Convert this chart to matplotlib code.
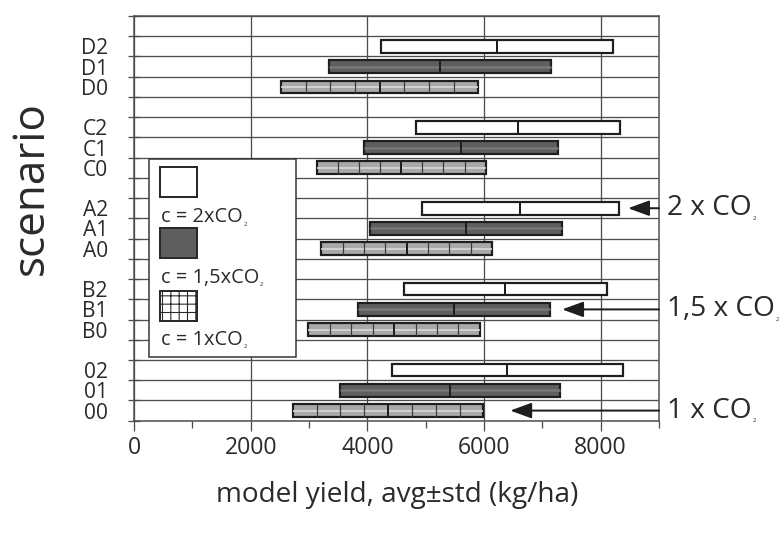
import matplotlib
matplotlib.use("Agg")
import matplotlib.pyplot as plt
import matplotlib.transforms as mtransforms
from matplotlib.patches import Rectangle
import numpy as np

# ---------------- data ----------------
scenarios = ["00", "01", "02", "B0", "B1", "B2", "A0", "A1", "A2",
             "C0", "C1", "C2", "D0", "D1", "D2"]
co2_level = [0, 1, 2, 0, 1, 2, 0, 1, 2, 0, 1, 2, 0, 1, 2]
avg_yield = [4355, 5420, 6400, 4460, 5485, 6365, 4675, 5690, 6620,
             4580, 5610, 6580, 4210, 5250, 6225]
std_yield = [1635, 1890, 1980, 1470, 1645, 1735, 1465, 1640, 1690,
             1450, 1660, 1750, 1690, 1900, 1985]
legend_labels = ["c = 2xCO", "c = 1,5xCO", "c = 1xCO"]
annot_labels = ["2 x CO", "1,5 x CO", "1 x CO"]
annot_rows = ["A2", "B1", "00"]
annot_tips = [8470, 7340, 6450]
x_major = [0, 2000, 4000, 6000, 8000]
x_minor = [1000, 3000, 5000, 7000, 9000]

# ---------------- style ----------------
DPI = 150
W, H = 783, 536
def pt(px):
    return px * 72.0 / DPI

TXT = "#2a2a2a"
EDGE = "#1e1e1e"
GRID = "#4d4d4d"
fills = {0: "#a9a9a9", 1: "#5e5e5e", 2: "#ffffff"}

plt.rcParams["font.family"] = ["Open Sans", "DejaVu Sans"]
plt.rcParams["hatch.linewidth"] = pt(1.1)

fig = plt.figure(figsize=(W / DPI, H / DPI), dpi=DPI)
ax = fig.add_axes([134 / W, 1 - 420.7 / H, 525 / W, 404.7 / H])

# row positions: groups of three separated by an empty slot
row_pos = {}
for i, s in enumerate(scenarios):
    row_pos[s] = i + i // 3
n_slots = len(scenarios) + len(scenarios) // 3 - 1

avg = np.array(avg_yield, float)
std = np.array(std_yield, float)
ys = np.array([row_pos[s] for s in scenarios], float)
lo, hi = avg - std, avg + std
bh = 0.62

ax.barh(ys, 2 * std, left=lo, height=bh,
        color=[fills[c] for c in co2_level], edgecolor=EDGE,
        linewidth=pt(2.2), zorder=3)

# light bars: light midline + quarter-std dividers
for y, a, l, h, c in zip(ys, avg, lo, hi, co2_level):
    if c == 0:
        ax.hlines(y, l, h, colors="#dcdcdc", lw=pt(1.6), zorder=3.5)
        divs = np.concatenate([np.linspace(l, a, 5)[1:-1], np.linspace(a, h, 5)[1:-1]])
        ax.vlines(divs, y - bh / 2, y + bh / 2, colors="#3a3a3a", lw=pt(1.2), zorder=3.6)
    elif c == 1:
        ax.hlines(y, l, h, colors="#787878", lw=pt(2.5), zorder=3.5)
ax.vlines(avg, ys - bh / 2, ys + bh / 2, colors=EDGE, lw=pt(2.0), zorder=4)

# axes / grid
ax.set_xlim(0, 9000)
ax.set_ylim(-0.5, n_slots + 0.5)
ax.set_xticks(x_major)
ax.set_xticks(x_minor, minor=True)
ax.set_xticklabels([str(v) for v in x_major])
ax.set_yticks(ys)
ax.set_yticklabels(scenarios)
ax.set_yticks(np.arange(-0.5, n_slots + 1, 1.0), minor=True)
ax.set_axisbelow(True)
ax.yaxis.grid(True, which="minor", color=GRID, lw=pt(1.3))
ax.xaxis.grid(True, which="major", color=GRID, lw=pt(1.3))
ax.tick_params(axis="y", which="major", length=0, pad=pt(26),
               labelsize=pt(21), labelcolor=TXT)
ax.tick_params(axis="y", which="minor", direction="inout", length=pt(12),
               width=pt(1.3), color=GRID)
ax.tick_params(axis="x", which="major", direction="out", length=pt(10),
               width=pt(1.3), color=GRID, pad=pt(5), labelsize=pt(23), labelcolor=TXT)
ax.tick_params(axis="x", which="minor", direction="out", length=pt(7),
               width=pt(1.3), color=GRID)
for sp in ax.spines.values():
    sp.set_color(GRID)
    sp.set_linewidth(pt(1.5))

# axis labels
fig.text(32 / W, 1 - 188 / H, "scenario", rotation=90, ha="center", va="center",
         fontsize=pt(44), color=TXT)
fig.text(397 / W, 1 - 495 / H, "model yield, avg±std (kg/ha)", ha="center",
         va="center", fontsize=pt(28), color=TXT)

# right-hand arrows and labels
blend = mtransforms.blended_transform_factory(fig.transFigure, ax.transData)
texts_with_sub = []
for lab, r, tip in zip(annot_labels, annot_rows, annot_tips):
    y = row_pos[r]
    ax.annotate("", xy=(tip, y), xytext=(9000, y),
                arrowprops=dict(arrowstyle="-|>,head_length=0.9,head_width=0.33",
                                mutation_scale=pt(20), color=EDGE, lw=pt(2.0),
                                shrinkA=0, shrinkB=0),
                annotation_clip=False)
    t = fig.text(667 / W, y, lab, transform=blend, ha="left", va="center",
                 fontsize=pt(28), color=TXT)
    texts_with_sub.append((t, 4))

# legend box
def fig_rect(x, y, w, h, **kw):
    r = Rectangle((x / W, 1 - (y + h) / H), w / W, h / H,
                  transform=fig.transFigure, **kw)
    fig.add_artist(r)
    return r

fig_rect(149, 159, 147, 198, facecolor="white", edgecolor="#333333",
         linewidth=pt(1.5), zorder=5)
sq_y = [167, 228, 291]
txt_y = [217, 278, 340]
sq_face = ["white", fills[1], "white"]
sq_hatch = [None, None, "+++"]
for yy, fc, hat in zip(sq_y, sq_face, sq_hatch):
    fig_rect(160, yy, 37, 30, facecolor=fc, edgecolor="#2a2a2a",
             linewidth=pt(2.0), hatch=hat, zorder=6)
for lab, yy in zip(legend_labels, txt_y):
    t = fig.text(161 / W, 1 - yy / H, lab, ha="left", va="center",
                 fontsize=pt(20), color=TXT, zorder=7)
    texts_with_sub.append((t, 3))

# tiny subscript "2" after each CO
fig.canvas.draw()
rend = fig.canvas.get_renderer()
inv = fig.transFigure.inverted()
for t, dy in texts_with_sub:
    bb = t.get_window_extent(rend)
    # display coords have origin bottom-left
    x, y = inv.transform((bb.x1 + 1, bb.y0 + dy))
    fig.text(x, y, "2", ha="left", va="center", fontsize=pt(6), color=TXT, zorder=7)

fig.savefig("out.png", dpi=DPI)
